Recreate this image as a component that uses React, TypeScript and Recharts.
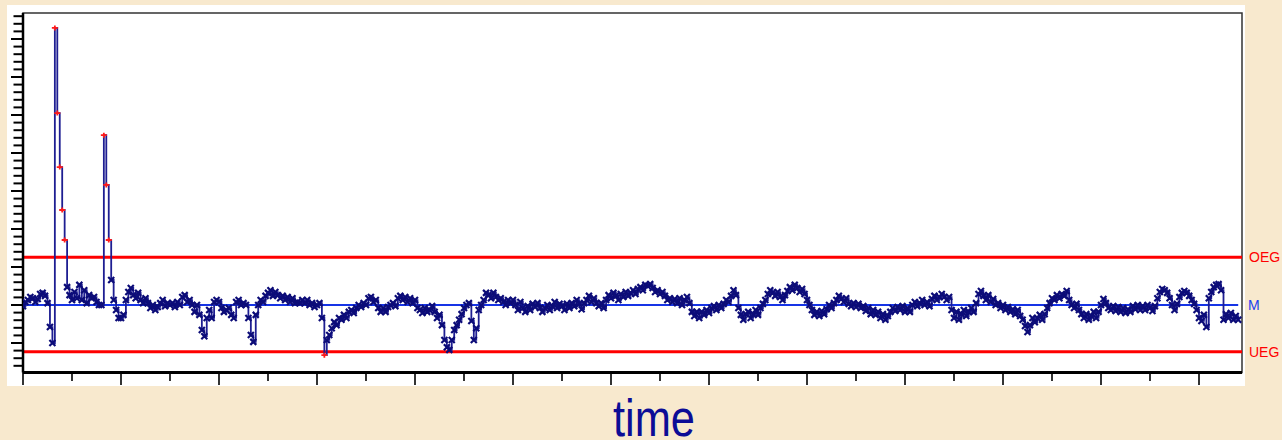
import React from 'react';
import { LineChart, Line, XAxis, YAxis, ReferenceLine, ReferenceArea } from 'recharts';

// control limits
const M = 50;
const OEG = 62.6;
const UEG = 37.7;

const X_DOMAIN = [0, 497.55];
const Y_DOMAIN = [32.24, 126.84];

const X_TICKS = [0, 20, 40, 60, 80, 100, 120, 140, 160, 180, 200, 220, 240, 260, 280, 300, 320, 340, 360, 380, 400, 420, 440, 460, 480];
const Y_TICKS = [
  34, 36, 38, 40, 42, 44, 46, 48, 50, 52, 54, 56, 58, 60, 62, 64, 66, 68, 70, 72, 74, 76, 78, 80,
  82, 84, 86, 88, 90, 92, 94, 96, 98, 100, 102, 104, 106, 108, 110, 112, 114, 116, 118, 120, 122, 124, 126,
];

// one row per x tick interval (20 samples)
const VALUES = [
  49.7, 50.8, 51.3, 52.1, 51.8, 50.8, 51.6, 52.9, 53.2, 52.4, 50.5, 44.2, 40.0, 122.9, 100.5, 86.3, 75.0, 67.1, 54.7, 52.6,
  51.3, 53.4, 51.8, 55.3, 51.3, 53.9, 50.5, 52.6, 51.8, 52.1, 50.8, 50.0, 50.0, 94.7, 81.6, 67.1, 56.6, 51.3, 48.7, 46.6,
  46.6, 47.4, 51.3, 53.4, 54.5, 52.6, 51.8, 53.2, 51.3, 50.5, 51.8, 50.5, 49.2, 50.0, 48.7, 49.5, 50.5, 51.3, 49.7, 50.5,
  50.0, 50.5, 49.5, 50.8, 50.0, 52.1, 52.6, 50.8, 51.3, 50.0, 48.2, 50.0, 47.4, 43.4, 41.8, 46.6, 48.7, 46.6, 50.8, 51.3,
  50.8, 49.2, 48.2, 48.7, 49.2, 47.4, 46.6, 50.8, 51.3, 50.0, 50.5, 50.0, 46.6, 42.1, 40.3, 47.4, 50.0, 51.3, 50.8, 52.4,
  53.2, 53.9, 52.4, 53.4, 52.6, 51.8, 52.4, 51.3, 52.1, 50.8, 51.8, 50.5, 50.8, 50.5, 51.3, 50.5, 51.3, 50.0, 50.5, 49.5,
  50.0, 50.5, 46.6, 36.8, 40.8, 42.1, 43.9, 45.5, 44.7, 46.6, 46.1, 47.4, 46.6, 48.2, 48.7, 47.9, 49.2, 50.0, 49.5, 50.5,
  50.0, 51.8, 52.1, 50.8, 51.3, 49.2, 48.2, 49.2, 48.2, 49.5, 50.0, 50.5, 49.7, 51.8, 52.4, 51.3, 52.1, 50.8, 51.8, 50.5,
  51.3, 49.2, 48.7, 47.9, 49.2, 48.2, 48.7, 49.7, 48.2, 46.6, 47.4, 44.7, 40.8, 38.9, 38.2, 40.8, 43.4, 44.7, 46.1, 47.6,
  49.2, 50.0, 50.5, 45.8, 40.8, 43.9, 48.7, 50.0, 51.3, 53.2, 52.6, 51.8, 53.2, 52.1, 51.3, 51.8, 50.8, 50.0, 51.3, 50.5,
  51.3, 50.0, 48.7, 50.8, 49.2, 48.2, 49.7, 48.7, 50.3, 49.5, 50.5, 49.2, 48.2, 49.2, 50.0, 48.7, 49.7, 50.8, 49.2, 50.3,
  49.7, 48.7, 50.3, 49.2, 50.5, 49.7, 51.3, 50.3, 48.9, 50.5, 51.3, 52.4, 50.8, 51.8, 50.5, 49.7, 50.5, 49.2, 51.3, 52.6,
  51.8, 53.2, 52.4, 51.3, 52.9, 52.1, 53.4, 52.4, 53.2, 53.9, 52.9, 54.2, 54.7, 53.9, 55.3, 55.0, 55.5, 54.5, 53.4, 53.9,
  52.9, 53.4, 52.4, 51.3, 51.8, 50.8, 51.6, 50.5, 51.8, 50.0, 51.3, 52.1, 50.5, 48.2, 47.1, 48.2, 46.6, 48.2, 47.4, 48.7,
  47.9, 49.2, 49.7, 48.7, 50.0, 49.2, 50.3, 51.3, 50.8, 52.4, 53.9, 52.6, 49.2, 47.4, 46.1, 47.6, 48.2, 46.6, 47.6, 48.7,
  47.4, 49.2, 50.3, 51.3, 52.9, 53.9, 53.2, 52.4, 53.4, 52.1, 51.3, 52.6, 53.7, 54.7, 53.9, 55.3, 54.5, 53.4, 54.2, 52.9,
  51.3, 50.0, 48.7, 47.4, 48.2, 47.1, 48.4, 47.6, 48.9, 50.0, 49.2, 50.5, 51.3, 52.4, 51.6, 50.8, 51.8, 50.3, 49.7, 50.5,
  49.5, 50.3, 49.2, 49.7, 48.4, 49.2, 47.6, 48.7, 47.4, 48.2, 46.6, 47.6, 46.1, 47.1, 48.2, 49.2, 48.4, 49.5, 48.7, 49.7,
  48.2, 49.2, 48.2, 50.0, 50.8, 49.7, 50.5, 51.3, 50.0, 50.8, 49.7, 51.6, 52.4, 51.3, 52.1, 52.9, 52.1, 51.3, 52.1, 48.7,
  46.6, 48.2, 46.1, 47.6, 48.7, 47.1, 48.2, 49.2, 48.2, 50.5, 52.9, 53.7, 52.4, 51.3, 52.6, 50.8, 51.6, 50.0, 50.5, 49.2,
  50.0, 48.7, 49.5, 48.2, 48.9, 47.6, 48.7, 47.1, 46.1, 44.5, 42.9, 44.7, 46.6, 45.5, 46.6, 47.4, 46.1, 47.6, 49.2, 50.5,
  51.8, 51.3, 52.6, 51.8, 52.9, 52.4, 53.7, 51.3, 50.0, 49.2, 50.3, 48.7, 47.6, 46.6, 47.6, 46.1, 47.1, 48.2, 46.6, 48.2,
  50.0, 51.6, 50.5, 49.2, 48.7, 49.7, 48.4, 49.5, 48.2, 49.2, 47.9, 48.9, 48.2, 49.7, 48.9, 50.0, 48.7, 49.7, 48.7, 50.0,
  49.2, 48.4, 49.7, 51.8, 53.4, 54.2, 53.9, 53.2, 51.8, 50.0, 48.7, 50.3, 52.1, 53.2, 53.7, 53.2, 52.4, 51.3, 50.3, 48.7,
  46.6, 45.8, 47.4, 44.2, 51.8, 53.4, 54.7, 55.3, 55.5, 53.9, 46.1, 47.6, 46.6, 47.9, 46.1, 47.1, 46.1,
];

const data = VALUES.map((v, i) => ({ t: i, v, m: M }));

const labelFont = 'Liberation Sans, Arial, sans-serif';

const YTick = (props: any) => {
  const { x, y, payload } = props;
  const len = payload.value % 10 === 0 ? 12 : 9.5;
  return <line x1={x - len} x2={x} y1={y} y2={y} stroke="#000" strokeWidth={2} />;
};

const XTick = (props: any) => {
  const { x, y, payload } = props;
  const len = payload.value % 40 === 0 ? 12.5 : 8.5;
  return <line x1={x} x2={x} y1={y} y2={y + len} stroke="#000" strokeWidth={1.6} />;
};

const renderDot = (props: any) => {
  const { cx, cy, index, payload } = props;
  if (cx == null || cy == null) return <g key={index} />;
  const v = payload.v;
  if (v > OEG || v < UEG) {
    return (
      <g key={index}>
        <line x1={cx - 3} x2={cx + 3} y1={cy} y2={cy} stroke="#ff1a1a" strokeWidth={1.8} />
        <line x1={cx} x2={cx} y1={cy - 2.5} y2={cy + 2.5} stroke="#ff1a1a" strokeWidth={1.8} />
      </g>
    );
  }
  return (
    <path
      key={index}
      d={`M${cx - 3},${cy - 3}L${cx + 3},${cy + 3}M${cx - 3},${cy + 3}L${cx + 3},${cy - 3}`}
      stroke="#0c0c78"
      strokeWidth={2.2}
      fill="none"
    />
  );
};

const App: React.FC = () => {
  return (
    <div style={{ position: 'absolute', left: 0, top: 0, width: 1282, height: 440, background: '#F8E9CE', overflow: 'hidden' }}>
      <div style={{ position: 'absolute', left: 7, top: 5, width: 1238, height: 381, background: '#fff' }} />
      <div style={{ position: 'absolute', left: 0, top: 0 }}>
        <LineChart width={1282} height={440} data={data} margin={{ top: 13, right: 40, bottom: 66.5, left: 22 }}>
          <ReferenceArea x1={X_DOMAIN[0]} x2={X_DOMAIN[1]} y1={Y_DOMAIN[0]} y2={Y_DOMAIN[1]} fill="none" stroke="#333" strokeWidth={1.5} />
          <XAxis
            dataKey="t"
            type="number"
            domain={X_DOMAIN}
            ticks={X_TICKS}
            allowDataOverflow
            interval={0}
            height={1}
            tickSize={0}
            tickMargin={0}
            tickLine={false}
            tick={<XTick />}
            axisLine={{ stroke: '#000', strokeWidth: 3 }}
          />
          <YAxis
            type="number"
            domain={Y_DOMAIN}
            ticks={Y_TICKS}
            allowDataOverflow
            interval={0}
            width={1}
            tickSize={0}
            tickMargin={0}
            tickLine={false}
            tick={<YTick />}
            axisLine={{ stroke: '#000', strokeWidth: 2.5 }}
          />
          <ReferenceLine
            y={M}
            stroke="none"
            label={{ value: 'M', position: 'right', offset: 6, fill: '#2040f0', fontSize: 14, fontFamily: labelFont }}
          />
          <ReferenceLine
            y={OEG}
            stroke="#ff0000"
            strokeWidth={3}
            label={{ value: 'OEG', position: 'right', offset: 7, fill: '#ff0000', fontSize: 14, fontFamily: labelFont }}
          />
          <ReferenceLine
            y={UEG}
            stroke="#ff0000"
            strokeWidth={3}
            label={{ value: 'UEG', position: 'right', offset: 7, fill: '#ff0000', fontSize: 14, fontFamily: labelFont }}
          />
          <Line type="linear" dataKey="m" stroke="#1634e6" strokeWidth={2} dot={false} activeDot={false} isAnimationActive={false} />
          <Line
            type="stepAfter"
            dataKey="v"
            stroke="#1e1e92"
            strokeWidth={1.8}
            dot={renderDot}
            activeDot={false}
            isAnimationActive={false}
          />
        </LineChart>
      </div>
      <svg style={{ position: 'absolute', left: 0, top: 376 }} width={1282} height={64}>
        <text
          x={654}
          y={60}
          textAnchor="middle"
          fontSize={52}
          fill="#0c0c96"
          fontFamily="'Liberation Sans Narrow', 'Liberation Sans', Arial, sans-serif"
          textLength={82}
          lengthAdjust="spacingAndGlyphs"
        >
          time
        </text>
      </svg>
    </div>
  );
};

export default App;
